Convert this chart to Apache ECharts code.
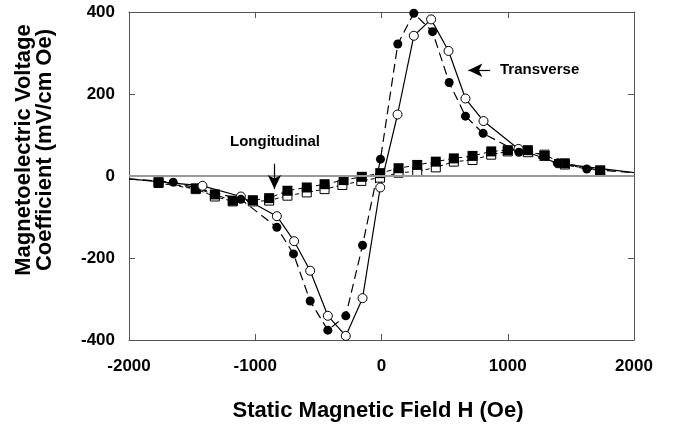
<!DOCTYPE html>
<html><head><meta charset="utf-8">
<script src="https://cdn.jsdelivr.net/npm/echarts@6/dist/echarts.min.js"></script>
<style>html,body{margin:0;padding:0;background:#fff}#c{width:674px;height:428px}</style>
</head><body><div id="c"></div>
<script>
// Transverse, filled circles (dashed line)
const transFilledH = [-2000, -1650, -1114, -829, -697, -565, -425, -283, -150, -8, 129, 256, 404, 536, 665, 805, 1088, 1397, 1626, 2000];
const transFilledV = [-7, -15, -57, -125, -190, -305, -376, -341, -169, 41, 322, 397, 352, 228, 146, 104, 58, 31, 17, 8];
// Transverse, open circles (solid line)
const transOpenH = [-2000, -1418, -1114, -829, -692, -565, -425, -283, -150, -10, 127, 256, 393, 531, 665, 808, 1085, 1397, 2000];
const transOpenV = [-7, -24, -50, -98, -159, -231, -341, -390, -298, -28, 150, 342, 382, 305, 189, 134, 66, 31, 8];
// Longitudinal, filled squares
const longFilledH = [-1766, -1471, -1320, -1178, -1019, -890, -745, -592, -451, -300, -156, -10, 135, 283, 430, 573, 721, 869, 1000, 1159, 1291, 1452, 1732];
const longFilledV = [-15, -30, -45, -60, -59, -54, -36, -28, -20, -10, -2, 7, 19, 27, 35, 43, 49, 60, 63, 63, 49, 31, 14];
// Longitudinal, open squares
const longOpenH = [-1766, -1471, -1320, -1178, -1019, -890, -745, -592, -451, -310, -160, -12, 135, 283, 430, 573, 721, 869, 1000, 1159, 1291, 1452, 1732];
const longOpenV = [-17, -32, -50, -62, -62, -60, -48, -40, -32, -22, -12, -4, 8, 11, 21, 35, 39, 52, 60, 58, 52, 28, 12];

const xTicks = [-2000, -1000, 0, 1000, 2000];
const yTicks = [-400, -200, 0, 200, 400];

const FONT = 'Liberation Sans, Arial, sans-serif';

function pts(hs, vs, edgeNoSymbol) {
  return hs.map((h, i) => {
    const item = { value: [h, vs[i]] };
    if (edgeNoSymbol && (Math.abs(h) >= 2000)) item.symbol = 'none';
    return item;
  });
}

const chart = echarts.init(document.getElementById('c'), null, { renderer: 'canvas' });
function axisCommon() {
  return {
    axisLine: { show: true, onZero: false, lineStyle: { color: '#555', width: 1 } },
    axisTick: { show: true, inside: true, length: 6, lineStyle: { color: '#555' } },
    splitLine: { show: false }
  };
}
chart.setOption({
  animation: false,
  backgroundColor: '#fff',
  grid: { left: 129, right: 40, top: 12, bottom: 88 },
  xAxis: [
    Object.assign({ type: 'value', min: -2000, max: 2000, interval: 1000, position: 'bottom',
      axisLabel: { fontFamily: FONT, fontWeight: 'bold', fontSize: 17, color: '#000', margin: 18,
        formatter: v => xTicks.includes(v) ? String(v) : '' } }, axisCommon()),
    Object.assign({ type: 'value', min: -2000, max: 2000, interval: 1000, position: 'top',
      axisLabel: { show: false } }, axisCommon())
  ],
  yAxis: [
    Object.assign({ type: 'value', min: -400, max: 400, interval: 200, position: 'left',
      axisLabel: { fontFamily: FONT, fontWeight: 'bold', fontSize: 17, color: '#000', margin: 14,
        formatter: v => yTicks.includes(v) ? String(v) : '' } }, axisCommon()),
    Object.assign({ type: 'value', min: -400, max: 400, interval: 200, position: 'right',
      axisLabel: { show: false } }, axisCommon())
  ],
  series: [
    {
      name: 'zero', type: 'line', data: [], silent: true,
      markLine: { silent: true, symbol: 'none', label: { show: false },
        lineStyle: { color: '#999', type: 'solid', width: 2 }, data: [{ yAxis: 0 }] }
    },
    {
      name: 'Longitudinal open', type: 'line', data: pts(longOpenH, longOpenV),
      symbol: 'rect', symbolSize: 9,
      itemStyle: { color: '#fff', borderColor: '#000', borderWidth: 1 },
      lineStyle: { color: '#000', width: 1, type: [4, 3] }
    },
    {
      name: 'Longitudinal filled', type: 'line', data: pts(longFilledH, longFilledV),
      symbol: 'rect', symbolSize: 10,
      itemStyle: { color: '#000', borderColor: '#000', borderWidth: 0 },
      lineStyle: { color: '#000', width: 1, type: [5, 4] }
    },
    {
      name: 'Transverse open', type: 'line', data: pts(transOpenH, transOpenV, true),
      symbol: 'circle', symbolSize: 9,
      itemStyle: { color: '#fff', borderColor: '#000', borderWidth: 1 },
      lineStyle: { color: '#000', width: 1.2, type: 'solid' }
    },
    {
      name: 'Transverse filled', type: 'line', data: pts(transFilledH, transFilledV, true),
      symbol: 'circle', symbolSize: 9,
      itemStyle: { color: '#000', borderColor: '#000', borderWidth: 0 },
      lineStyle: { color: '#000', width: 1.2, type: [9, 5] },
      markLine: {
        silent: true, symbol: ['none', 'arrow'], symbolSize: [10, 14],
        label: { show: false },
        lineStyle: { color: '#000', type: 'solid', width: 1.2 },
        data: [
          [{ coord: [-848, 30] }, { coord: [-848, -32] }],
          [{ coord: [860, 258] }, { coord: [688, 258] }]
        ]
      }
    }
  ],
  graphic: [
    { type: 'text', left: 230, top: 134, style: { text: 'Longitudinal', font: 'bold 15px ' + FONT, fill: '#000' } },
    { type: 'text', left: 500, top: 62, style: { text: 'Transverse', font: 'bold 15px ' + FONT, fill: '#000' } },
    { type: 'text', x: 378, y: 411, style: { text: 'Static Magnetic Field H (Oe)', font: 'bold 22px ' + FONT,
      fill: '#000', align: 'center', verticalAlign: 'middle' } },
    { type: 'text', x: 34, y: 150, rotation: Math.PI / 2,
      style: { text: 'Magnetoelectric Voltage\nCoefficient (mV/cm Oe)', font: 'bold 22px ' + FONT,
        fill: '#000', align: 'center', verticalAlign: 'middle', lineHeight: 21 } }
  ]
});
</script>
</body></html>
